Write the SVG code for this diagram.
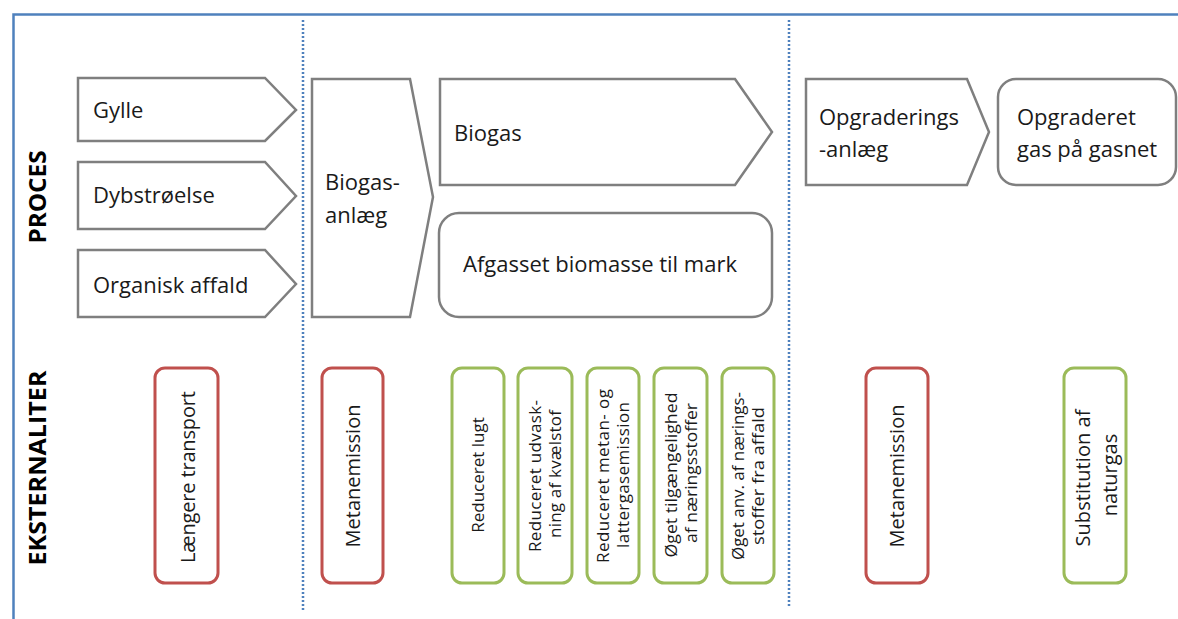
<svg xmlns="http://www.w3.org/2000/svg" width="1178" height="619" viewBox="0 0 1178 619">
<style>
  .frame { fill: none; stroke: #4f81bd; stroke-width: 2.5; }
  .sep { stroke: #4f81bd; stroke-width: 2.5; stroke-dasharray: 2 2; fill: none; }
  .proc { fill: #ffffff; stroke: #7f7f7f; stroke-width: 2.5; stroke-linejoin: miter; }
  .red { fill: #ffffff; stroke: #c0504d; stroke-width: 3; }
  .green { fill: #ffffff; stroke: #9bbb59; stroke-width: 3; }
  .t { font-family: "Open Sans", "Liberation Sans", sans-serif; font-size: 22px; fill: #1a1a1a; }
  .lab { font-family: "Open Sans", "Liberation Sans", sans-serif; font-size: 23px; font-weight: bold; fill: #000000; }
  .v20 { font-family: "Open Sans", "Liberation Sans", sans-serif; font-size: 20px; fill: #1a1a1a; text-anchor: middle; }
  .v17 { font-family: "Open Sans", "Liberation Sans", sans-serif; font-size: 17px; fill: #1a1a1a; text-anchor: middle; }
</style>
<rect width="1178" height="619" fill="#ffffff"/>
<rect class="frame" x="13.5" y="14.5" width="1200" height="700"/>
<g id="separators">
  <line class="sep" x1="303" y1="20" x2="303" y2="611"/>
  <line class="sep" x1="789" y1="20" x2="789" y2="606"/>
</g>
<g id="label-proces">
  <text class="lab" transform="translate(46,197) rotate(-90)" text-anchor="middle" textLength="93" lengthAdjust="spacingAndGlyphs">PROCES</text>
</g>
<g id="label-eksternaliter">
  <text class="lab" transform="translate(46,468) rotate(-90)" text-anchor="middle" textLength="195" lengthAdjust="spacingAndGlyphs">EKSTERNALITER</text>
</g>
<g id="gylle">
  <polygon class="proc" points="78,78 265,78 296,110 265,141 78,141"/>
  <text class="t" x="93" y="118">Gylle</text>
</g>
<g id="dybstroelse">
  <polygon class="proc" points="78,162 265,162 296,196 265,229 78,229"/>
  <text class="t" x="93" y="203">Dybstrøelse</text>
</g>
<g id="organisk-affald">
  <polygon class="proc" points="78,250 265,250 296,284 265,317 78,317"/>
  <text class="t" x="93" y="293">Organisk affald</text>
</g>
<g id="biogasanlaeg">
  <polygon class="proc" points="312,79 410,79 433,197 410,317 312,317"/>
  <text class="t" x="325" y="190">Biogas-</text>
  <text class="t" x="325" y="223">anlæg</text>
</g>
<g id="biogas">
  <polygon class="proc" points="440,79 735,79 772,132 735,185 440,185"/>
  <text class="t" x="454" y="141">Biogas</text>
</g>
<g id="afgasset">
  <rect class="proc" x="439" y="213" width="333" height="104" rx="20"/>
  <text class="t" x="600" y="272" text-anchor="middle">Afgasset biomasse til mark</text>
</g>
<g id="opgraderingsanlaeg">
  <polygon class="proc" points="806,79 967,79 989,132 967,185 806,185"/>
  <text class="t" x="819" y="125">Opgraderings</text>
  <text class="t" x="819" y="157">-anlæg</text>
</g>
<g id="opgraderet-gas">
  <rect class="proc" x="998" y="79" width="178" height="106" rx="18"/>
  <text class="t" x="1017" y="125">Opgraderet</text>
  <text class="t" x="1017" y="157">gas på gasnet</text>
</g>
<g id="ext-transport">
  <rect class="red" x="155" y="368" width="63" height="215" rx="10"/>
  <text class="v20" transform="translate(186.5,477) rotate(-90)" y="8" textLength="172" lengthAdjust="spacing">Længere transport</text>
</g>
<g id="ext-metan-1">
  <rect class="red" x="322" y="368" width="61" height="215" rx="10"/>
  <text class="v20" transform="translate(352.5,476) rotate(-90)" y="7">Metanemission</text>
</g>
<g id="ext-lugt">
  <rect class="green" x="452" y="368" width="52" height="215" rx="10"/>
  <text class="v17" transform="translate(478,475) rotate(-90)" y="6">Reduceret lugt</text>
</g>
<g id="ext-udvaskning">
  <rect class="green" x="518" y="368" width="54" height="215" rx="10"/>
  <text class="v17" transform="translate(545,476) rotate(-90)" y="-4" textLength="152" lengthAdjust="spacing">Reduceret udvask-</text>
  <text class="v17" transform="translate(545,474) rotate(-90)" y="16" textLength="128" lengthAdjust="spacing">ning af kvælstof</text>
</g>
<g id="ext-metan-latter">
  <rect class="green" x="587" y="368" width="52" height="215" rx="10"/>
  <text class="v17" transform="translate(613,476) rotate(-90)" y="-4" textLength="174" lengthAdjust="spacing">Reduceret metan- og</text>
  <text class="v17" transform="translate(613,475) rotate(-90)" y="16" textLength="146" lengthAdjust="spacing">lattergasemission</text>
</g>
<g id="ext-tilgaengelighed">
  <rect class="green" x="654" y="368" width="53" height="215" rx="10"/>
  <text class="v17" transform="translate(680.5,475) rotate(-90)" y="-4" textLength="165" lengthAdjust="spacingAndGlyphs">Øget tilgængelighed</text>
  <text class="v17" transform="translate(680.5,473) rotate(-90)" y="16" textLength="140" lengthAdjust="spacingAndGlyphs">af næringsstoffer</text>
</g>
<g id="ext-anvendelse">
  <rect class="green" x="722" y="368" width="52" height="215" rx="10"/>
  <text class="v17" transform="translate(748,476) rotate(-90)" y="-4" textLength="168" lengthAdjust="spacingAndGlyphs">Øget anv. af nærings-</text>
  <text class="v17" transform="translate(748,476) rotate(-90)" y="16" textLength="138" lengthAdjust="spacingAndGlyphs">stoffer fra affald</text>
</g>
<g id="ext-metan-2">
  <rect class="red" x="866" y="368" width="62" height="215" rx="10"/>
  <text class="v20" transform="translate(897,476) rotate(-90)" y="7">Metanemission</text>
</g>
<g id="ext-substitution">
  <rect class="green" x="1064" y="368" width="62" height="215" rx="10"/>
  <text class="v20" transform="translate(1095,478) rotate(-90)" y="-5" textLength="137" lengthAdjust="spacing">Substitution af</text>
  <text class="v20" transform="translate(1095,475) rotate(-90)" y="22">naturgas</text>
</g>
</svg>
